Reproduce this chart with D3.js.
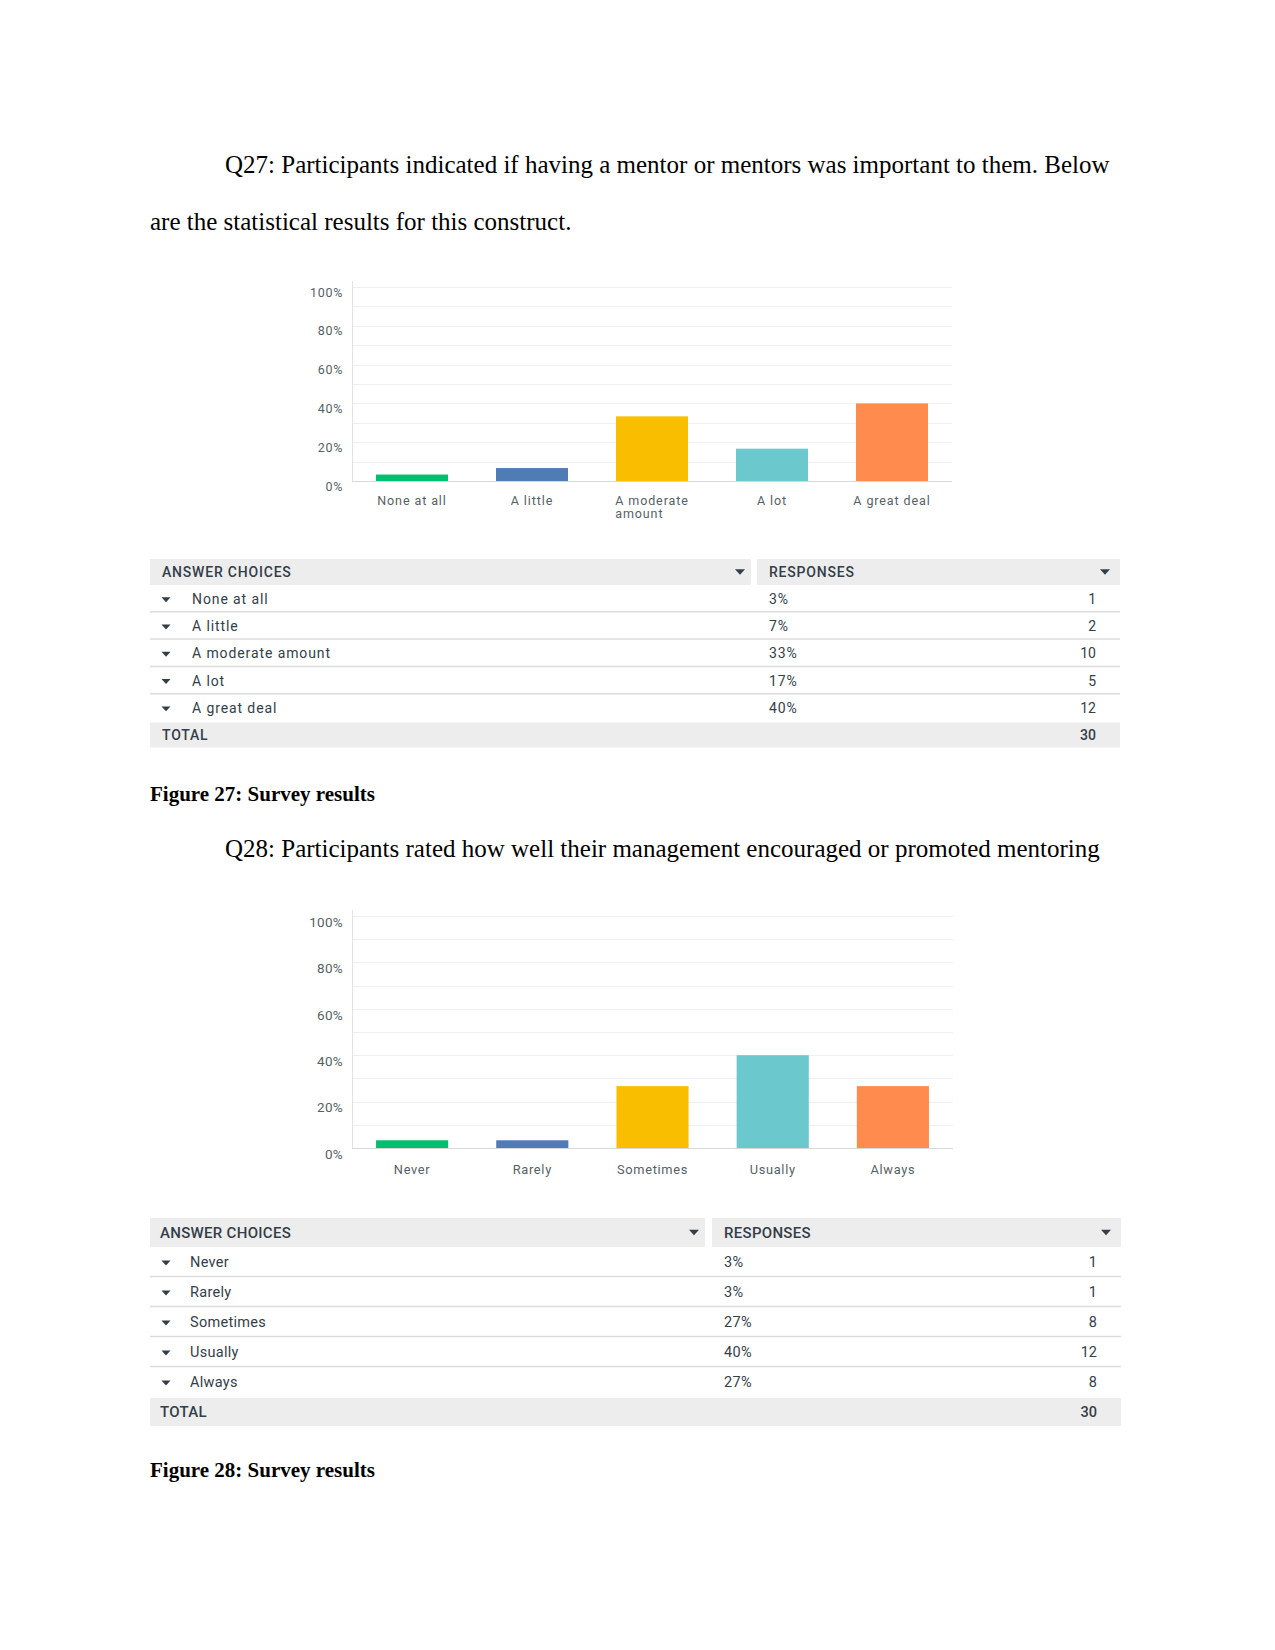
<!DOCTYPE html>
<html><head><meta charset="utf-8">
<script src="https://cdn.jsdelivr.net/npm/d3@7"></script>
<style>
html,body{margin:0;padding:0;background:#fff;}
svg{display:block;}
</style></head>
<body>
<svg id="page" width="1275" height="1650"></svg>
<script>
// ---------- DATA ----------
const q27Categories = ["None at all", "A little", "A moderate amount", "A lot", "A great deal"];
const q27AxisLabels = [["None at all"], ["A little"], ["A moderate", "amount"], ["A lot"], ["A great deal"]];
const q27Percent = [3.33, 6.67, 33.33, 16.67, 40];
const q27PercentLabels = ["3%", "7%", "33%", "17%", "40%"];
const q27Counts = [1, 2, 10, 5, 12];
const q27Total = 30;

const q28Categories = ["Never", "Rarely", "Sometimes", "Usually", "Always"];
const q28Percent = [3.33, 3.33, 26.67, 40, 26.67];
const q28PercentLabels = ["3%", "3%", "27%", "40%", "27%"];
const q28Counts = [1, 1, 8, 12, 8];
const q28Total = 30;

const barColors = ["#00bf6f", "#507cb6", "#f9be00", "#6bc8cd", "#ff8b4f"];
const yTicks = [0, 20, 40, 60, 80, 100];
const gridTicks = [10, 20, 30, 40, 50, 60, 70, 80, 90, 100];

const svg = d3.select("#page");
const serif = "'Liberation Serif','Times New Roman',serif";
const sans = "Roboto, 'Noto Sans', sans-serif";
const textDark = "#333e48";

// ---------- BODY TEXT ----------
function para(x, y, str, bold) {
  svg.append("text").attr("x", x).attr("y", y)
    .attr("font-family", serif).attr("font-size", bold ? 21 : 25)
    .attr("font-weight", bold ? "bold" : "normal")
    .attr("fill", "#000").text(str);
}
para(225, 173, "Q27: Participants indicated if having a mentor or mentors was important to them. Below");
para(150, 230, "are the statistical results for this construct.");
para(150, 801, "Figure 27: Survey results", true);
para(225, 857, "Q28: Participants rated how well their management encouraged or promoted mentoring");
para(150, 1477, "Figure 28: Survey results", true);

// ---------- CHART ----------
function chart(opts) {
  const {left, right, top, bottom, cats, labels, values, labelSize, yLabelSize, labelY, labelSpacing} = opts;
  const g = svg.append("g");
  const x = d3.scaleBand().domain(cats).range([left, right]).paddingInner(0.4).paddingOuter(0.2);
  const y = d3.scaleLinear().domain([0, 100]).range([bottom, top]);

  // gridlines
  g.selectAll("line.grid").data(gridTicks).join("line")
    .attr("x1", left + 1).attr("x2", right)
    .attr("y1", d => Math.round(y(d)) + 0.5).attr("y2", d => Math.round(y(d)) + 0.5)
    .attr("stroke", "#efefef").attr("stroke-width", 1.2);

  // y axis labels via d3 axis
  const ax = d3.axisLeft(y).tickValues(yTicks).tickSize(0).tickPadding(0)
    .tickFormat(d => d + "%");
  const ag = g.append("g").attr("transform", `translate(${left - 9},${opts.yLabelOffset})`).call(ax);
  ag.select(".domain").remove();
  ag.selectAll("text").attr("font-family", sans).attr("font-size", yLabelSize)
    .attr("fill", "#555f66").attr("letter-spacing", opts.yLetter);

  // vertical axis line
  g.append("line").attr("x1", left + 0.5).attr("x2", left + 0.5)
    .attr("y1", top - 6).attr("y2", bottom)
    .attr("stroke", "#e2e2e2").attr("stroke-width", 1);

  // bars
  g.selectAll("rect.bar").data(cats).join("rect")
    .attr("x", d => x(d)).attr("width", x.bandwidth())
    .attr("y", (d, i) => y(values[i])).attr("height", (d, i) => bottom - y(values[i]))
    .attr("fill", (d, i) => barColors[i]);

  // baseline
  g.append("line").attr("x1", left).attr("x2", right)
    .attr("y1", bottom + 0.5).attr("y2", bottom + 0.5)
    .attr("stroke", "#d8d8d8").attr("stroke-width", 1.2);

  // x labels
  cats.forEach((c, i) => {
    const lines = labels[i];
    const cx = x(c) + x.bandwidth() / 2;
    const t = g.append("text").attr("font-family", sans).attr("font-size", labelSize)
      .attr("fill", "#555f66").attr("letter-spacing", labelSpacing);
    lines.forEach((ln, k) => {
      t.append("tspan").attr("x", cx).attr("y", labelY + k * (labelSize + 0.5)).text(ln);
    });
    const w = t.node().getBBox().width;
    t.selectAll("tspan").attr("x", cx - w / 2);
  });
}

chart({left: 352, right: 952, top: 287, bottom: 481,
  cats: q27Categories, labels: q27AxisLabels, values: q27Percent,
  labelSize: 12.5, yLabelSize: 12.5, labelY: 505, labelSpacing: 0.9, yLabelOffset: 5, yLetter: 0.7});

chart({left: 352, right: 953, top: 916, bottom: 1148,
  cats: q28Categories, labels: q28Categories.map(d => [d]), values: q28Percent,
  labelSize: 12.8, yLabelSize: 13.5, labelY: 1174, labelSpacing: 0.7, yLabelOffset: 6, yLetter: 0.3});

// ---------- TABLES ----------
function tri(g, cx, cy, w, color) {
  const h = w * 0.55;
  g.append("path").attr("d", `M${cx - w/2},${cy - h/2}L${cx + w/2},${cy - h/2}L${cx},${cy + h/2}Z`).attr("fill", color);
}

function table(opts) {
  const {x0, x1, splitL, splitR, headTop, headH, rowH, cats, pcts, counts, total, fs, ls, hfs, hls} = opts;
  const g = svg.append("g");
  const rowIdx = d3.range(cats.length);
  const ry = d3.scaleBand().domain(rowIdx).range([headTop + headH, headTop + headH + rowH * cats.length]);
  // header
  g.append("rect").attr("x", x0).attr("y", headTop).attr("width", splitL - x0).attr("height", headH).attr("fill", "#ededed");
  g.append("rect").attr("x", splitR).attr("y", headTop).attr("width", x1 - splitR).attr("height", headH).attr("fill", "#ededed");
  const hy = headTop + headH / 2;
  g.append("text").attr("x", x0 + opts.hx).attr("y", hy).attr("dy", "0.36em")
    .attr("font-family", sans).attr("font-size", hfs).attr("font-weight", 500)
    .attr("letter-spacing", hls).attr("fill", textDark).text("ANSWER CHOICES");
  g.append("text").attr("x", splitR + 12).attr("y", hy).attr("dy", "0.36em")
    .attr("font-family", sans).attr("font-size", hfs).attr("font-weight", 500)
    .attr("letter-spacing", hls).attr("fill", textDark).text("RESPONSES");
  tri(g, splitL - 11, hy, 10, "#333e48");
  tri(g, x1 - 15, hy, 10, "#333e48");

  // rows
  rowIdx.forEach(i => {
    const cy = ry(i) + rowH / 2;
    if (i < cats.length - 1) {
      g.append("line").attr("x1", x0).attr("x2", x1).attr("y1", ry(i) + rowH - 0.5).attr("y2", ry(i) + rowH - 0.5)
        .attr("stroke", "#dcdcdc").attr("stroke-width", 1.5);
    }
    tri(g, x0 + 16, cy + 1, 9, "#333e48");
    g.append("text").attr("x", x0 + opts.lx).attr("y", cy).attr("dy", "0.36em")
      .attr("font-family", sans).attr("font-size", fs).attr("letter-spacing", ls)
      .attr("fill", textDark).text(cats[i]);
    g.append("text").attr("x", splitR + 12).attr("y", cy).attr("dy", "0.36em")
      .attr("font-family", sans).attr("font-size", fs).attr("letter-spacing", ls)
      .attr("fill", textDark).text(pcts[i]);
    g.append("text").attr("x", x1 - 24).attr("y", cy).attr("dy", "0.36em").attr("text-anchor", "end")
      .attr("font-family", sans).attr("font-size", fs)
      .attr("fill", textDark).text(counts[i]);
  });
  // total
  const tTop = headTop + headH + rowH * cats.length + 1;
  g.append("rect").attr("x", x0).attr("y", tTop).attr("width", x1 - x0).attr("height", opts.totalH).attr("fill", "#ededed");
  g.append("text").attr("x", x0 + opts.hx).attr("y", tTop + opts.totalH / 2).attr("dy", "0.36em")
    .attr("font-family", sans).attr("font-size", hfs).attr("font-weight", 500).attr("letter-spacing", hls)
    .attr("fill", textDark).text("TOTAL");
  g.append("text").attr("x", x1 - 24).attr("y", tTop + opts.totalH / 2).attr("dy", "0.36em").attr("text-anchor", "end")
    .attr("font-family", sans).attr("font-size", fs).attr("font-weight", 500)
    .attr("fill", textDark).text(total);
}

table({x0: 150, x1: 1120, splitL: 751, splitR: 757, headTop: 559, headH: 26, rowH: 27.3,
  cats: q27Categories, pcts: q27PercentLabels, counts: q27Counts, total: q27Total,
  fs: 14, ls: 0.9, hfs: 14, hls: 0.8, hx: 12, lx: 42, totalH: 25});

table({x0: 150, x1: 1121, splitL: 705, splitR: 712, headTop: 1218, headH: 29, rowH: 30,
  cats: q28Categories, pcts: q28PercentLabels, counts: q28Counts, total: q28Total,
  fs: 14.5, ls: 0.3, hfs: 15, hls: 0.3, hx: 10, lx: 40, totalH: 28});
</script>
</body></html>
